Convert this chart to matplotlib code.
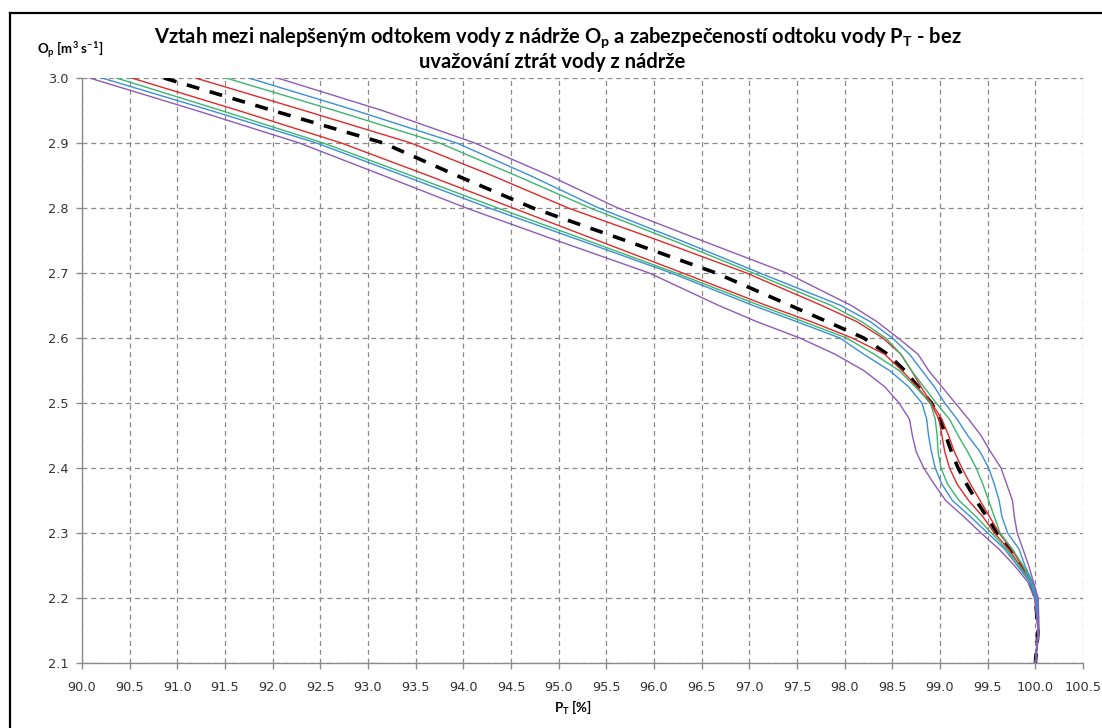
import matplotlib
matplotlib.use("Agg")
import matplotlib.pyplot as plt
from matplotlib.lines import Line2D
import numpy as np

plt.rcParams['mathtext.fontset'] = 'custom'
plt.rcParams['mathtext.rm'] = 'Lato'
plt.rcParams['mathtext.bf'] = 'Lato:bold'
plt.rcParams['mathtext.it'] = 'Lato:italic'
plt.rcParams['mathtext.default'] = 'bf'

# O_p levels [m3/s] and P_T [%] for each curve
O_p = [3.0, 2.95, 2.9, 2.85, 2.8, 2.75, 2.7, 2.65, 2.625, 2.6, 2.575, 2.55, 2.525, 2.5,
       2.475, 2.45, 2.425, 2.4, 2.375, 2.35, 2.325, 2.3, 2.275, 2.25, 2.225, 2.2, 2.15, 2.1]

purple_low = [90.08, 91.20, 92.28, 93.16, 94.03, 94.98, 95.95, 96.68, 97.08, 97.53, 97.90, 98.20, 98.42, 98.57,
              98.68, 98.71, 98.75, 98.83, 98.94, 99.06, 99.25, 99.43, 99.62, 99.78, 99.92, 99.99, 100.03, 100.0]
blue_low = [90.21, 91.35, 92.46, 93.37, 94.27, 95.23, 96.18, 97.04, 97.50, 97.95, 98.20, 98.47, 98.67, 98.81,
            98.86, 98.88, 98.91, 98.95, 99.02, 99.13, 99.32, 99.50, 99.68, 99.81, 99.94, 100.0, 100.03, 100.0]
green_low = [90.36, 91.46, 92.53, 93.45, 94.36, 95.30, 96.23, 97.11, 97.57, 98.02, 98.31, 98.57, 98.74, 98.90,
             98.95, 98.97, 98.98, 99.01, 99.08, 99.20, 99.38, 99.54, 99.70, 99.83, 99.95, 100.0, 100.03, 100.0]
red_low = [90.52, 91.64, 92.72, 93.63, 94.52, 95.41, 96.30, 97.18, 97.65, 98.08, 98.42, 98.60, 98.76, 98.90,
           98.99, 99.02, 99.05, 99.10, 99.18, 99.30, 99.45, 99.57, 99.72, 99.84, 99.95, 100.0, 100.03, 100.0]
mean_curve = [90.86, 92.00, 93.16, 93.93, 94.73, 95.70, 96.65, 97.43, 97.82, 98.20, 98.45, 98.63, 98.77, 98.91,
              99.00, 99.06, 99.12, 99.19, 99.28, 99.38, 99.49, 99.60, 99.74, 99.85, 99.95, 100.0, 100.03, 100.0]
red_up = [91.19, 92.33, 93.45, 94.30, 95.10, 96.05, 96.97, 97.76, 98.13, 98.40, 98.59, 98.70, 98.80, 98.91,
          99.02, 99.09, 99.15, 99.23, 99.32, 99.42, 99.52, 99.62, 99.75, 99.86, 99.96, 100.01, 100.03, 100.0]
green_up = [91.51, 92.65, 93.75, 94.55, 95.33, 96.20, 97.04, 97.86, 98.18, 98.43, 98.59, 98.70, 98.83, 98.96,
            99.10, 99.19, 99.29, 99.38, 99.45, 99.51, 99.57, 99.63, 99.76, 99.87, 99.96, 100.01, 100.03, 100.0]
blue_up = [91.75, 92.87, 93.93, 94.70, 95.42, 96.28, 97.11, 97.96, 98.27, 98.50, 98.68, 98.81, 98.94, 99.05,
           99.18, 99.29, 99.42, 99.51, 99.57, 99.62, 99.65, 99.71, 99.83, 99.89, 99.97, 100.02, 100.03, 100.0]
purple_up = [92.05, 93.15, 94.12, 94.90, 95.62, 96.50, 97.39, 98.07, 98.34, 98.56, 98.77, 98.88, 99.02, 99.16,
             99.30, 99.43, 99.53, 99.64, 99.70, 99.76, 99.78, 99.81, 99.87, 99.93, 99.98, 100.03, 100.04, 100.0]

x_ticks = np.arange(90.0, 100.51, 0.5)
y_ticks = np.arange(2.1, 3.001, 0.1)

c_purple = '#8e5bb6'
c_blue = '#3b8fd6'
c_green = '#3bb56e'
c_red = '#e02a2a'

W, H = 1102, 728
fig = plt.figure(figsize=(W / 100, H / 100), dpi=100)
ax = fig.add_axes([82 / W, 65 / H, 1001 / W, 585 / H])

# mean curve first, coloured envelopes drawn over it
ax.plot(mean_curve, O_p, color='black', lw=2.6, dashes=(3.6, 3.0))
for xs, col in [(red_low, c_red), (red_up, c_red),
                (green_low, c_green), (green_up, c_green),
                (blue_low, c_blue), (blue_up, c_blue),
                (purple_low, c_purple), (purple_up, c_purple)]:
    ax.plot(xs, O_p, color=col, lw=1.0, solid_joinstyle='round')

ax.set_xlim(90.0, 100.5)
ax.set_ylim(2.1, 3.0)
ax.set_xticks(x_ticks)
ax.set_yticks(y_ticks)
ax.set_xticklabels(["%.1f" % v for v in x_ticks])
ax.set_yticklabels(["%.1f" % v for v in y_ticks])

ax.grid(True, color='#8a8a8a', lw=0.9, dashes=(4, 3))
ax.set_axisbelow(True)
for s in ['top', 'right']:
    ax.spines[s].set_visible(False)
for s in ['left', 'bottom']:
    ax.spines[s].set_color('#8a8a8a')
    ax.spines[s].set_linewidth(1.0)
ax.tick_params(direction='out', length=4, width=1, color='#8a8a8a',
               labelsize=9.3, labelcolor='#333333')
ax.tick_params(axis='x', pad=9)
ax.tick_params(axis='y', pad=5.5)
for lab in ax.get_xticklabels() + ax.get_yticklabels():
    lab.set_family('DejaVu Sans')

# outer chart frame
fig.add_artist(Line2D([9.5 / W, 9.5 / W], [0, 1 - 13 / H], color='black', lw=1.6,
                      transform=fig.transFigure))
fig.add_artist(Line2D([9.5 / W, 1], [1 - 13 / H, 1 - 13 / H], color='black', lw=1.6,
                      transform=fig.transFigure))

fig.text(558 / W, 1 - 38 / H,
         "Vztah mezi nalepšeným odtokem vody z nádrže O$_p$ a zabezpečeností odtoku vody P$_T$ - bez",
         ha='center', va='center', fontsize=14.5, fontweight='bold', family='Lato')
fig.text(552 / W, 1 - 62 / H, "uvažování ztrát vody z nádrže",
         ha='center', va='center', fontsize=14.5, fontweight='bold', family='Lato')

fig.text(37 / W, 1 - 50 / H, "O$_p$ [m$^3$ s$^{-1}$]", ha='left', va='center',
         fontsize=9.5, fontweight='bold', family='Lato')
fig.text(573 / W, 1 - 708 / H, "P$_T$ [%]", ha='center', va='center',
         fontsize=9.5, fontweight='bold', family='Lato')

fig.savefig("out.png", dpi=100)
